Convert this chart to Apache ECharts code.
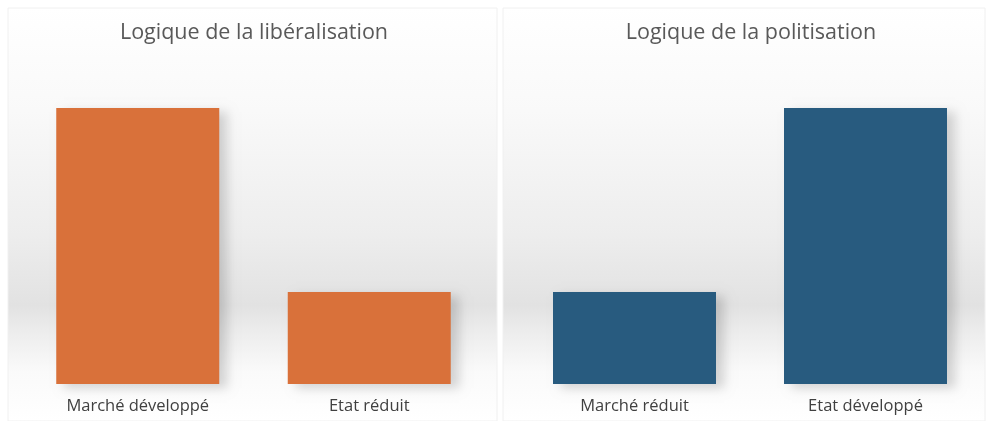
<!DOCTYPE html>
<html><head><meta charset="utf-8">
<script src="https://cdn.jsdelivr.net/npm/echarts@6/dist/echarts.min.js"></script>
<style>html,body{margin:0;padding:0;background:#fff}#c{width:988px;height:421px}</style>
</head><body><div id="c"></div>
<script>
const titles = ['Logique de la libéralisation', 'Logique de la politisation'];
const catsLeft = ['Marché développé', 'Etat réduit'];
const valsLeft = [3, 1];
const catsRight = ['Marché réduit', 'Etat développé'];
const valsRight = [1, 3];
const colors = ['#D9713A', '#285B7F'];

const chart = echarts.init(document.getElementById('c'), null, {renderer: 'canvas'});
const bgFill = new echarts.graphic.LinearGradient(0, 0, 0, 1, [
  {offset: 0, color: '#ffffff'},
  {offset: 0.25, color: '#f9f9f9'},
  {offset: 0.55, color: '#ededed'},
  {offset: 0.72, color: '#e2e2e2'},
  {offset: 0.78, color: '#ececec'},
  {offset: 0.88, color: '#fafafa'},
  {offset: 1, color: '#ffffff'}
]);
const axisLabelStyle = {color: '#404040', fontSize: 16.5, fontFamily: 'Open Sans', margin: 14};
function xAxis(cats, gi) {
  return {type: 'category', gridIndex: gi, data: cats, axisLine: {show: false}, axisTick: {show: false}, axisLabel: axisLabelStyle};
}
function yAxis(gi) {
  return {type: 'value', gridIndex: gi, min: 0, max: 3, show: false, splitLine: {show: false}};
}
function series(vals, gi, color) {
  return {type: 'bar', xAxisIndex: gi, yAxisIndex: gi, data: vals, barWidth: 163,
    itemStyle: {color: color, shadowColor: 'rgba(0,0,0,0.16)', shadowBlur: 10, shadowOffsetX: 8, shadowOffsetY: 4},
    silent: true, animation: false};
}
chart.setOption({
  backgroundColor: '#ffffff',
  animation: false,
  graphic: [
    {type: 'rect', z: -10, silent: true, shape: {x: 8, y: 8, width: 489, height: 413}, style: {fill: bgFill, stroke: '#f0f0f0', lineWidth: 1}},
    {type: 'rect', z: -10, silent: true, shape: {x: 503, y: 8, width: 482, height: 413}, style: {fill: bgFill, stroke: '#f0f0f0', lineWidth: 1}}
  ],
  title: [
    {text: titles[0], left: 249, top: 17, textAlign: 'center', textStyle: {color: '#595959', fontSize: 21.5, fontWeight: 'normal', fontFamily: 'Open Sans'}},
    {text: titles[1], left: 746, top: 17, textAlign: 'center', textStyle: {color: '#595959', fontSize: 21.5, fontWeight: 'normal', fontFamily: 'Open Sans'}}
  ],
  grid: [
    {left: 22, width: 463, top: 108, bottom: 37},
    {left: 519, width: 462, top: 108, bottom: 37}
  ],
  xAxis: [xAxis(catsLeft, 0), xAxis(catsRight, 1)],
  yAxis: [yAxis(0), yAxis(1)],
  series: [series(valsLeft, 0, colors[0]), series(valsRight, 1, colors[1])]
});
</script></body></html>
